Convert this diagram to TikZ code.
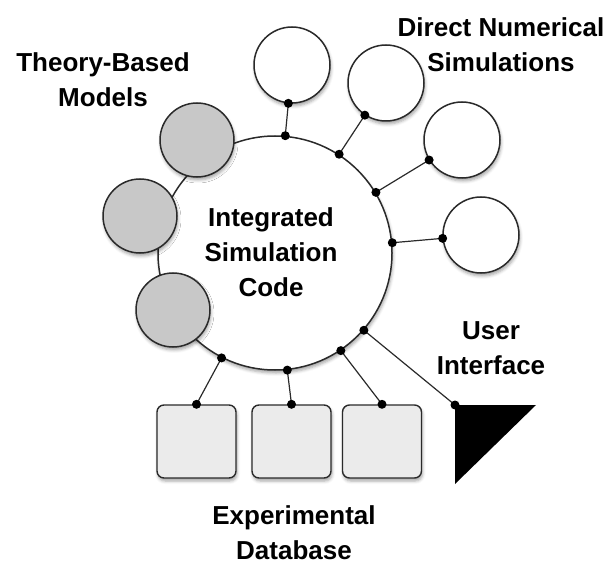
\documentclass[tikz,border=0pt]{standalone}
\usepackage{fontspec}
\setmainfont{Liberation Sans}
\usetikzlibrary{calc,shadows.blur}
\definecolor{grayfill}{HTML}{C8C8C8}
\definecolor{boxfill}{HTML}{EBEBEB}
\definecolor{edge}{HTML}{2A2A2A}
\tikzset{
  softshadow/.style={blur shadow={shadow xshift=1pt, shadow yshift=-3pt, shadow blur radius=3pt, shadow opacity=35}},
  hub/.style={circle, draw=edge, line width=1.5pt, fill=white, minimum size=234pt, inner sep=0pt, softshadow},
  theory/.style={circle, draw=edge, line width=1.5pt, fill=grayfill, minimum size=74pt, inner sep=0pt, softshadow},
  dns/.style={circle, draw=edge, line width=1.5pt, fill=white, minimum size=76pt, inner sep=0pt, softshadow},
  dbbox/.style={rectangle, rounded corners=7pt, draw=edge, line width=1.4pt, fill=boxfill, minimum width=79pt, minimum height=73pt, inner sep=0pt, softshadow},
  link/.style={draw=edge, line width=1.2pt},
  dot/.style={circle, fill=black, minimum size=9pt, inner sep=0pt},
  lbl/.style={align=center, inner sep=0pt, font=\fontsize{26}{35}\selectfont\bfseries}
}
\begin{document}
\begin{tikzpicture}[x=1pt, y=-1pt]
\useasboundingbox (0,0) rectangle (613,564);
% hub
\node[hub] (big) at (275,253) {};
% theory-based models
\node[theory] (t1) at (197,140) {};
\node[theory] (t2) at (140,216) {};
\node[theory] (t3) at (173,310) {};
% DNS circles
\node[dns] (d1) at (292,65) {};
\node[dns] (d2) at (386,83) {};
\node[dns] (d3) at (462,140) {};
\node[dns] (d4) at (481,235) {};
% database boxes
\node[dbbox] (b1) at (196.5,441.5) {};
\node[dbbox] (b2) at (291.5,441.5) {};
\node[dbbox] (b3) at (382,441.5) {};
% user interface triangle
\coordinate (ui) at (455,405);
\fill[black] (ui) -- (536,405) -- (455,484) -- cycle;
% hub-side connection points
\coordinate (h1) at (big.85);
\coordinate (h2) at (big.57);
\coordinate (h3) at (big.31);
\coordinate (h4) at (big.5);
\coordinate (h5) at (big.243);
\coordinate (h6) at (big.276);
\coordinate (h7) at (big.304);
\coordinate (h8) at (big.319);
% far-side connection points
\coordinate (e1) at ($(d1.center)!38.5pt!(h1)$);
\coordinate (e2) at ($(d2.center)!38.5pt!(h2)$);
\coordinate (e3) at ($(d3.center)!38.5pt!(h3)$);
\coordinate (e4) at ($(d4.center)!38.5pt!(h4)$);
% connectors
\draw[link] (h1) -- (e1);
\draw[link] (h2) -- (e2);
\draw[link] (h3) -- (e3);
\draw[link] (h4) -- (e4);
\draw[link] (h5) -- (b1.north);
\draw[link] (h6) -- (b2.north);
\draw[link] (h7) -- (b3.north);
\draw[link] (h8) -- (ui);
% dots
\foreach \p in {h1,h2,h3,h4,h5,h6,h7,h8,e1,e2,e3,e4,ui}
  \node[dot] at (\p) {};
\node[dot] at (b1.north) {};
\node[dot] at (b2.north) {};
\node[dot] at (b3.north) {};
% labels
\node[lbl] (lt) at (103,80) {Theory-Based\\Models};
\node[lbl] (ld) at (501,45) {Direct Numerical\\Simulations};
\node[lbl] (lc) at (271,252) {Integrated\\Simulation\\Code};
\node[lbl] (lu) at (491,348) {User\\Interface};
\node[lbl] (le) at (294,533) {Experimental\\Database};
\end{tikzpicture}
\end{document}
